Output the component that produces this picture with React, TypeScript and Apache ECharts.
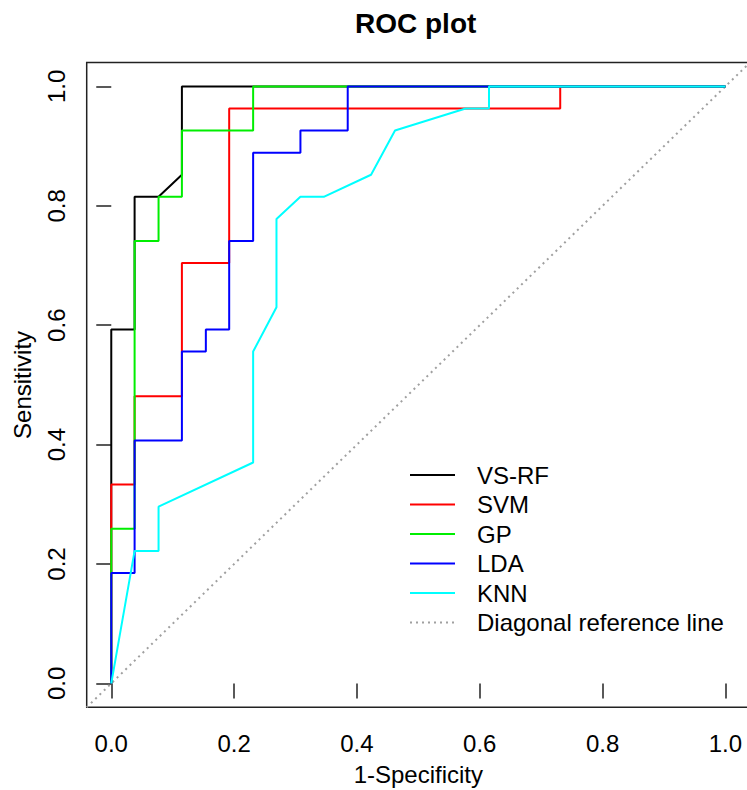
import React, { useEffect, useRef } from "react";
import * as echarts from "echarts";

const seriesNames = ["VS-RF", "SVM", "GP", "LDA", "KNN"];
const seriesColors = ["#000000", "#ff0000", "#00ee00", "#0000ff", "#00ffff"];

const vsrfX = [0, 0, 0.038, 0.038, 0.077, 0.115, 0.115, 1];
const vsrfY = [0, 0.593, 0.593, 0.815, 0.815, 0.852, 1, 1];

const svmX = [0, 0, 0.038, 0.038, 0.115, 0.115, 0.192, 0.192, 0.731, 0.731, 1];
const svmY = [0, 0.333, 0.333, 0.481, 0.481, 0.704, 0.704, 0.963, 0.963, 1, 1];

const gpX = [0, 0, 0.038, 0.038, 0.077, 0.077, 0.115, 0.115, 0.231, 0.231, 1];
const gpY = [0, 0.259, 0.259, 0.741, 0.741, 0.815, 0.815, 0.926, 0.926, 1, 1];

const ldaX = [0, 0, 0.038, 0.038, 0.115, 0.115, 0.154, 0.154, 0.192, 0.192, 0.231, 0.231, 0.308, 0.308, 0.385, 0.385, 1];
const ldaY = [0, 0.185, 0.185, 0.407, 0.407, 0.556, 0.556, 0.593, 0.593, 0.741, 0.741, 0.889, 0.889, 0.926, 0.926, 1, 1];

const knnX = [0, 0.038, 0.077, 0.077, 0.231, 0.231, 0.269, 0.269, 0.308, 0.346, 0.423, 0.462, 0.577, 0.615, 0.615, 1];
const knnY = [0, 0.222, 0.222, 0.296, 0.370, 0.556, 0.630, 0.778, 0.815, 0.815, 0.852, 0.926, 0.963, 0.963, 1, 1];

const diagX = [-0.04, 1.04];
const diagY = [-0.04, 1.04];

const tickValues = [0, 0.2, 0.4, 0.6, 0.8, 1.0];

const FONT = "'Liberation Sans', Arial, Helvetica, sans-serif";

const zip = (xs: number[], ys: number[]) => xs.map((x, i) => [x, ys[i]]);

export default function App() {
  const ref = useRef<HTMLDivElement>(null);
  useEffect(() => {
    if (!ref.current) return;
    const chart = echarts.init(ref.current, undefined, { renderer: "svg" });
    const curves = [
      zip(vsrfX, vsrfY),
      zip(svmX, svmY),
      zip(gpX, gpY),
      zip(ldaX, ldaY),
      zip(knnX, knnY),
    ];
    const axisCommon = (name: string, isY: boolean) => ({
      type: "value",
      min: -0.04,
      max: 1.04,
      name,
      nameLocation: "middle",
      nameGap: isY ? 52 : 55,
      nameTextStyle: { fontFamily: FONT, fontSize: 24, color: "#000" },
      axisLine: { show: false },
      splitLine: { show: false },
      axisTick: {
        show: true,
        length: 15,
        customValues: tickValues,
        lineStyle: { color: "#222", width: 1.5 },
      },
      axisLabel: {
        customValues: tickValues,
        fontFamily: FONT,
        fontSize: 24,
        color: "#000",
        margin: isY ? 18 : 24,
        rotate: isY ? 90 : 0,
        formatter: (v: number) => v.toFixed(1),
      },
    });
    chart.setOption({
      animation: false,
      backgroundColor: "#fff",
      title: {
        text: "ROC plot",
        left: 355,
        top: 9,
        padding: 0,
        textStyle: { fontFamily: FONT, fontSize: 28, fontWeight: "bold", color: "#000" },
      },
      grid: {
        left: 86.7,
        right: 10,
        top: 62.5,
        bottom: 82.7,
        show: true,
        borderColor: "#222",
        borderWidth: 1.5,
        containLabel: false,
        outerBoundsMode: "none",
      },
      legend: {
        left: 409,
        top: 463,
        padding: 0,
        orient: "vertical",
        itemWidth: 45,
        itemHeight: 14,
        itemGap: 5.5,
        itemStyle: { opacity: 0 },
        textStyle: { fontFamily: FONT, fontSize: 24, color: "#000", padding: [0, 0, 0, 17] },
        data: [...seriesNames, "Diagonal reference line"],
      },
      xAxis: axisCommon("1-Specificity", false),
      yAxis: axisCommon("Sensitivity", true),
      series: [
        {
          name: "Diagonal reference line",
          type: "line",
          data: zip(diagX, diagY),
          symbol: "none",
          lineStyle: { color: "#a0a0a0", width: 2, type: [2, 4] },
          itemStyle: { color: "#a0a0a0" },
          z: 1,
        },
        ...seriesNames.map((n, i) => ({
          name: n,
          type: "line",
          data: curves[i],
          symbol: "none",
          lineStyle: { color: seriesColors[i], width: 2 },
          itemStyle: { color: seriesColors[i] },
          z: 2 + i,
        })),
      ],
    });
    return () => chart.dispose();
  }, []);
  return (
    <div
      ref={ref}
      style={{ position: "fixed", left: 0, top: 0, width: 760, height: 790, background: "#fff" }}
    />
  );
}
